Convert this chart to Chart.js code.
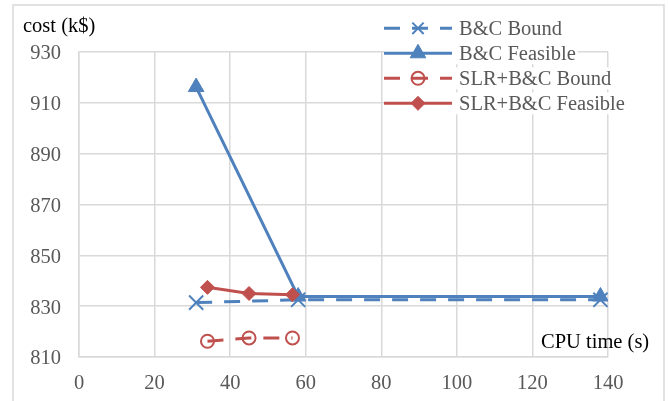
<!DOCTYPE html>
<html>
<head>
<meta charset="utf-8">
<script src="https://cdn.jsdelivr.net/npm/chart.js@4.4.1/dist/chart.umd.min.js"></script>
<style>
  html, body { margin: 0; padding: 0; background: #fff; }
  #wrap { width: 668px; height: 401px; }
</style>
</head>
<body>
<div id="wrap"><canvas id="chart" width="668" height="401"></canvas></div>
<script>
'use strict'

var FONT = '"Liberation Serif", "Times New Roman", serif';
var BLUE = '#4F81BD';
var RED = '#C0504D';
var GRID = '#d9d9d9';

// ------------- Data ------------- //
var seriesNames = ['B&C Bound', 'B&C Feasible', 'SLR+B&C Bound', 'SLR+B&C Feasible'];

var bcTime = [31, 58, 138];
var bcBound = [831.4, 832.5, 832.5];
var bcFeasible = [916.2, 833.8, 833.8];

var slrTime = [34, 45, 56.5];
var slrBound = [816.2, 817.5, 817.5];
var slrFeasible = [837.4, 835.0, 834.5];

var xTicks = [0, 20, 40, 60, 80, 100, 120, 140];
var yTicks = [810, 830, 850, 870, 890, 910, 930];

function toPoints(xs, ys) {
  var pts = [];
  for (let k = 0; k < xs.length; k++)
    pts.push({x: xs[k], y: ys[k]});
  return pts;
}

// ------------- Extra drawing: frame, titles, legend ------------- //
var decorPlugin = {
  id: 'decor',
  beforeDraw: function(chart) {
    var c = chart.ctx;
    c.save();
    c.fillStyle = '#fff';
    c.fillRect(0, 0, chart.width, chart.height);
    c.strokeStyle = GRID;
    c.lineWidth = 1.5;
    c.beginPath();
    c.moveTo(13, 410);
    c.lineTo(13, 5);
    c.lineTo(664, 5);
    c.lineTo(664, 410);
    c.stroke();
    c.restore();
  },
  afterDraw: function(chart) {
    var c = chart.ctx;
    c.save();
    c.font = '20.5px ' + FONT;
    c.fillStyle = '#000';
    c.textBaseline = 'alphabetic';
    c.textAlign = 'left';
    c.fillText('cost (k$)', 23, 32);
    c.fillText('CPU time (s)', 541, 348);

    // legend
    var rowY = [28.3, 53.3, 78.3, 103.3];
    chart.data.datasets.forEach(function(ds, k) {
      var y = rowY[k];
      var tw = c.measureText(ds.label).width;
      c.fillStyle = '#fff';
      c.fillRect(384, y - 11, 459 - 384 + tw + 2, 22);

      c.strokeStyle = ds.borderColor;
      c.lineWidth = 3;
      c.setLineDash(ds.borderDash || []);
      c.beginPath();
      c.moveTo(384, y);
      c.lineTo(452, y);
      c.stroke();
      c.setLineDash([]);

      c.fillStyle = ds.pointBackgroundColor;
      c.strokeStyle = ds.pointBorderColor;
      c.lineWidth = ds.pointBorderWidth;
      var r = ds.pointStyle === 'crossRot' ? 8 : ds.pointRadius;
      Chart.helpers.drawPoint(c, {pointStyle: ds.pointStyle, radius: r, rotation: 0, borderWidth: ds.pointBorderWidth}, 418, y);

      c.fillStyle = '#595959';
      c.fillText(ds.label, 459, y + 7);
    });
    c.restore();
  }
};

function axisTicks() {
  return {
    stepSize: 20,
    color: '#595959',
    font: {family: FONT, size: 20.5},
    callback: function(v) { return v; }
  };
}

var ctx = document.getElementById('chart').getContext('2d');

var myChart = new Chart(ctx, {
  type: 'line',
  data: {
    datasets: [{
      label: seriesNames[0],
      data: toPoints(bcTime, bcBound),
      borderColor: BLUE,
      borderWidth: 3,
      borderDash: [16, 12],
      pointStyle: 'crossRot',
      pointRadius: 10,
      pointBorderWidth: 2,
      pointBorderColor: BLUE,
      pointBackgroundColor: BLUE,
      order: 4
    }, {
      label: seriesNames[1],
      data: toPoints(bcTime, bcFeasible),
      borderColor: BLUE,
      borderWidth: 3,
      pointStyle: 'triangle',
      pointRadius: 9,
      pointBorderWidth: 1,
      pointBorderColor: BLUE,
      pointBackgroundColor: BLUE,
      order: 3
    }, {
      label: seriesNames[2],
      data: toPoints(slrTime, slrBound),
      borderColor: RED,
      borderWidth: 3,
      borderDash: [16, 12],
      pointStyle: 'circle',
      pointRadius: 6.5,
      pointBorderWidth: 2,
      pointBorderColor: RED,
      pointBackgroundColor: 'rgba(0,0,0,0)',
      order: 2
    }, {
      label: seriesNames[3],
      data: toPoints(slrTime, slrFeasible),
      borderColor: RED,
      borderWidth: 3,
      pointStyle: 'rectRot',
      pointRadius: 7,
      pointBorderWidth: 1,
      pointBorderColor: RED,
      pointBackgroundColor: RED,
      order: 1
    }]
  },
  options: {
    responsive: false,
    animation: false,
    events: [],
    layout: {padding: {left: 0, right: 60, top: 52, bottom: 0}},
    elements: {line: {tension: 0, fill: false, borderCapStyle: 'butt'}},
    plugins: {legend: {display: false}, tooltip: {enabled: false}, title: {display: false}},
    scales: {
      x: {
        type: 'linear',
        min: xTicks[0],
        max: xTicks[xTicks.length - 1],
        ticks: Object.assign(axisTicks(), {padding: 14, maxRotation: 0}),
        grid: {color: GRID, lineWidth: 1.5, drawTicks: false},
        border: {color: GRID, width: 1.5},
        afterFit: function(s) { s.height = 44; }
      },
      y: {
        min: yTicks[0],
        max: yTicks[yTicks.length - 1],
        ticks: Object.assign(axisTicks(), {padding: 18, labelOffset: 2}),
        grid: {color: GRID, lineWidth: 1.5, drawTicks: false},
        border: {color: GRID, width: 1.5},
        afterFit: function(s) { s.width = 79; }
      }
    }
  },
  plugins: [decorPlugin]
});
</script>
</body>
</html>
